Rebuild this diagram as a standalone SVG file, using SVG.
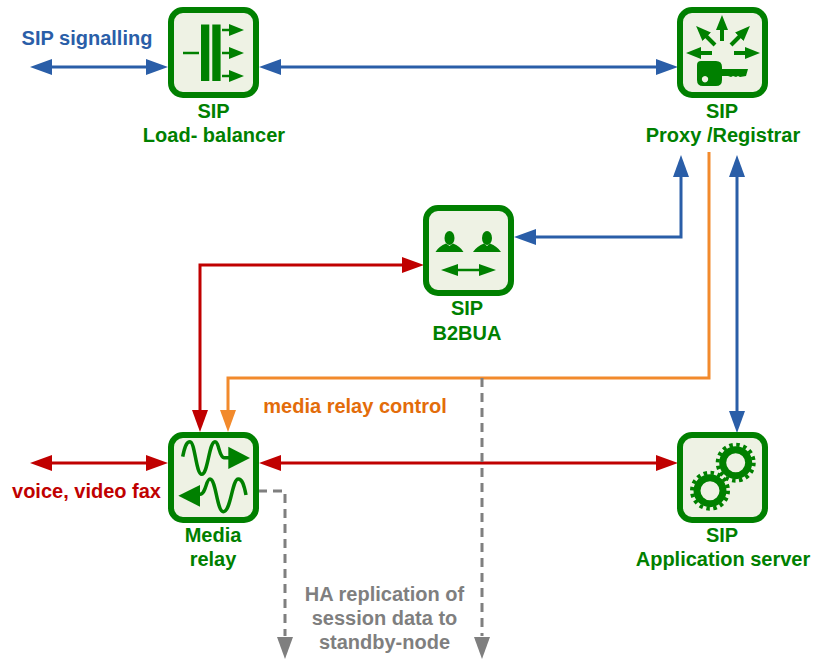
<svg xmlns="http://www.w3.org/2000/svg" width="813" height="659" viewBox="0 0 813 659">
<style>
.t{font-family:"Liberation Sans",Arial,sans-serif;font-weight:bold;font-size:20px;text-anchor:middle}
.g{fill:#008000}.lab{fill:#008000}
.box{fill:#eef2e4;stroke:#008000;stroke-width:6}
.c{fill:none;stroke-width:3}
.i{fill:none;stroke:#008000}
.blue{stroke:#2a5ea8}.red{stroke:#c00000}.or{stroke:#f28a2c}.gr{stroke:#7f7f7f;stroke-dasharray:9 6}
</style>
<defs>
<marker id="ab" markerUnits="userSpaceOnUse" markerWidth="24" markerHeight="18" refX="14" refY="8" orient="auto-start-reverse"><path d="M0 0L22 8L0 16z" fill="#2a5ea8"/></marker>
<marker id="ar" markerUnits="userSpaceOnUse" markerWidth="24" markerHeight="18" refX="14" refY="8" orient="auto-start-reverse"><path d="M0 0L22 8L0 16z" fill="#c00000"/></marker>
<marker id="ao" markerUnits="userSpaceOnUse" markerWidth="24" markerHeight="18" refX="14" refY="8" orient="auto-start-reverse"><path d="M0 0L22 8L0 16z" fill="#f28a2c"/></marker>
<marker id="ai" markerUnits="userSpaceOnUse" markerWidth="18" markerHeight="14" refX="1" refY="6" orient="auto-start-reverse"><path d="M0 0L15 6L0 12z" fill="#008000"/></marker>
<marker id="aj" markerUnits="userSpaceOnUse" markerWidth="20" markerHeight="14" refX="1" refY="6" orient="auto-start-reverse"><path d="M0 0L17 6L0 12z" fill="#008000"/></marker>
</defs>
<g id="connectors">
<path class="c blue" d="M38 67H160" marker-start="url(#ab)" marker-end="url(#ab)"/>
<path class="c blue" d="M267 67H670" marker-start="url(#ab)" marker-end="url(#ab)"/>
<path class="c blue" d="M522 237H681V163" marker-start="url(#ab)" marker-end="url(#ab)"/>
<path class="c blue" d="M737 163V425" marker-start="url(#ab)" marker-end="url(#ab)"/>
<path class="c red" d="M416 265H200V424" marker-start="url(#ar)" marker-end="url(#ar)"/>
<path class="c or" d="M709 152V378H228V424" marker-end="url(#ao)"/>
<path class="c red" d="M38 463H160" marker-start="url(#ar)" marker-end="url(#ar)"/>
<path class="c red" d="M267 463H670" marker-start="url(#ar)" marker-end="url(#ar)"/>
<path class="c gr" d="M482 378V636"/><path d="M474 637L482 659L490 637z" fill="#7f7f7f"/>
<path class="c gr" d="M258 491H285V636"/><path d="M277 637L285 659L293 637z" fill="#7f7f7f"/>
</g>
<g id="lb">
<rect class="box" x="171" y="10" width="85" height="85" rx="12"/>
<path class="g" d="M201 24.500h8.300v56.500h-8.300zM212.300 24.500h8.300v56.500h-8.300z"/>
<path class="i" stroke-width="2.500" d="M183 53H199"/>
<path class="i" stroke-width="2.500" d="M222 30H230" marker-end="url(#ai)"/>
<path class="i" stroke-width="2.500" d="M222 53H230" marker-end="url(#ai)"/>
<path class="i" stroke-width="2.500" d="M222 76H230" marker-end="url(#ai)"/>
<text class="t lab" x="213.500" y="118">SIP</text>
<text class="t lab" x="214" y="142">Load- balancer</text>
</g>
<g id="proxy">
<rect class="box" x="680" y="10" width="85" height="85" rx="12"/>
<path class="i" stroke-width="4" d="M722 41V29" marker-end="url(#ai)"/>
<path class="i" stroke-width="4" d="M715 45L706 36" marker-end="url(#ai)"/>
<path class="i" stroke-width="4" d="M731 45L740 36" marker-end="url(#ai)"/>
<path class="i" stroke-width="4" d="M712 53H700" marker-end="url(#ai)"/>
<path class="i" stroke-width="4" d="M734 53H746" marker-end="url(#ai)"/>
<path class="g" fill-rule="evenodd" d="M701 61H716Q722 61 722 67V69H748L746 76L740 77L738 76L736 77L733 76L731 77L728 76H722V80Q722 86 716 86H703Q697 86 697 80V65Q697 61 701 61zM705 76a3.200 3.200 0 1 0 .01 0z"/>
<text class="t lab" x="722" y="118">SIP</text>
<text class="t lab" x="723" y="142">Proxy /Registrar</text>
</g>
<g id="b2bua">
<rect class="box" x="426" y="208" width="85" height="85" rx="12"/>
<ellipse class="g" cx="449.500" cy="238" rx="5" ry="7"/>
<ellipse class="g" cx="487" cy="238" rx="5" ry="7"/>
<path class="g" d="M435.500 252Q439 246 446 243.500L449.500 246L453 243.500Q460 246 463.500 252zM473 252Q477 246 484 243.500L487 246L490 243.500Q497 246 501 252z"/>
<path class="i" stroke-width="2.500" d="M457 270H480" marker-start="url(#aj)" marker-end="url(#aj)"/>
<text class="t lab" x="467" y="315">SIP</text>
<text class="t lab" x="467" y="340">B2BUA</text>
</g>
<g id="media">
<rect class="box" x="171" y="435" width="85" height="85" rx="12"/>
<path class="i" stroke-width="3.500" d="M182.700 456.700C185 445 187 441.700 190 441.700C195 441.700 196 474.300 201.700 474.300C208 474.300 209 441.700 215 441.700C219 441.700 219 457 224 457.700H230"/>
<path class="g" d="M228.300 446.700L250 458L228.300 469z"/>
<path class="i" stroke-width="3.500" d="M246 495C244 484 242 479 238.300 479C232 479 231 511.700 223.300 511.700C217 511.700 216 479 210 479C206 479 206 494 200 494.300H198"/>
<path class="g" d="M200 485L178.300 495.700L200 506.700z"/>
<text class="t lab" x="213" y="542">Media</text>
<text class="t lab" x="213" y="566">relay</text>
</g>
<g id="app">
<rect class="box" x="680" y="435" width="85" height="85" rx="12"/>
<circle cx="735.700" cy="462.700" r="13" fill="none" stroke="#008000" stroke-width="7"/>
<circle cx="735.700" cy="462.700" r="18" fill="none" stroke="#008000" stroke-width="4" stroke-dasharray="3.530 3.540"/>
<circle cx="710" cy="490.700" r="13" fill="none" stroke="#008000" stroke-width="7"/>
<circle cx="710" cy="490.700" r="18" fill="none" stroke="#008000" stroke-width="4" stroke-dasharray="3.530 3.540"/>
<text class="t lab" x="722" y="542">SIP</text>
<text class="t lab" x="723" y="566">Application server</text>
</g>
<text class="t" x="87" y="45" fill="#2a5ea8">SIP signalling</text>
<text class="t" x="86.500" y="498" fill="#c00000">voice, video fax</text>
<text class="t" x="355" y="413" fill="#e36c0a">media relay control</text>
<text class="t" x="384.500" y="601" fill="#7f7f7f">HA replication of</text>
<text class="t" x="384.500" y="625" fill="#7f7f7f">session data to</text>
<text class="t" x="384.500" y="649" fill="#7f7f7f">standby-node</text>
</svg>
